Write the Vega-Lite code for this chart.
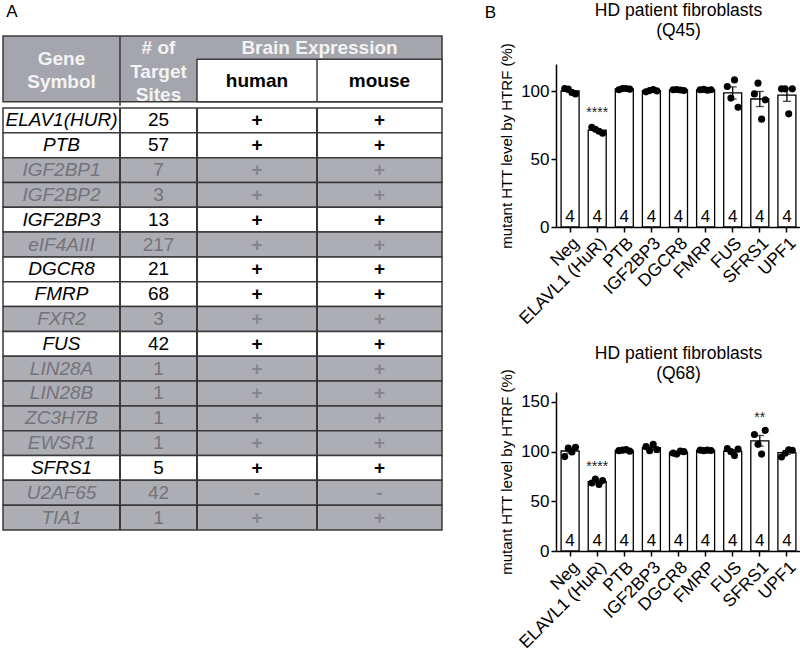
{
  "$schema": "https://vega.github.io/schema/vega-lite/v6.json",
  "padding": {"left": 2, "top": 2, "right": 0, "bottom": 0},
  "spacing": 41,
  "config": {
    "font": "Liberation Sans",
    "view": {"stroke": null},
    "title": {"font": "Liberation Sans", "fontWeight": "normal", "color": "black"},
    "axis": {"labelFont": "Liberation Sans", "titleFont": "Liberation Sans", "domainColor": "black", "tickColor": "black", "labelColor": "black", "titleColor": "black", "grid": false, "domainWidth": 1.5, "tickWidth": 1.5}
  },
  "datasets": {
    "table": [
      {"gene": "ELAV1(HUR)", "sites": 25, "human": "+", "mouse": "+", "tested": "yes"},
      {"gene": "PTB", "sites": 57, "human": "+", "mouse": "+", "tested": "yes"},
      {"gene": "IGF2BP1", "sites": 7, "human": "+", "mouse": "+", "tested": "no"},
      {"gene": "IGF2BP2", "sites": 3, "human": "+", "mouse": "+", "tested": "no"},
      {"gene": "IGF2BP3", "sites": 13, "human": "+", "mouse": "+", "tested": "yes"},
      {"gene": "eIF4AIII", "sites": 217, "human": "+", "mouse": "+", "tested": "no"},
      {"gene": "DGCR8", "sites": 21, "human": "+", "mouse": "+", "tested": "yes"},
      {"gene": "FMRP", "sites": 68, "human": "+", "mouse": "+", "tested": "yes"},
      {"gene": "FXR2", "sites": 3, "human": "+", "mouse": "+", "tested": "no"},
      {"gene": "FUS", "sites": 42, "human": "+", "mouse": "+", "tested": "yes"},
      {"gene": "LIN28A", "sites": 1, "human": "+", "mouse": "+", "tested": "no"},
      {"gene": "LIN28B", "sites": 1, "human": "+", "mouse": "+", "tested": "no"},
      {"gene": "ZC3H7B", "sites": 1, "human": "+", "mouse": "+", "tested": "no"},
      {"gene": "EWSR1", "sites": 1, "human": "+", "mouse": "+", "tested": "no"},
      {"gene": "SFRS1", "sites": 5, "human": "+", "mouse": "+", "tested": "yes"},
      {"gene": "U2AF65", "sites": 42, "human": "-", "mouse": "-", "tested": "no"},
      {"gene": "TIA1", "sites": 1, "human": "+", "mouse": "+", "tested": "no"}
    ],
    "q45": [
      {"gene": "Neg", "rep": 1, "value": 102, "sig": ""},
      {"gene": "Neg", "rep": 2, "value": 101.5, "sig": ""},
      {"gene": "Neg", "rep": 3, "value": 99, "sig": ""},
      {"gene": "Neg", "rep": 4, "value": 98, "sig": ""},
      {"gene": "ELAVL1 (HuR)", "rep": 1, "value": 73.5, "sig": "****"},
      {"gene": "ELAVL1 (HuR)", "rep": 2, "value": 72, "sig": "****"},
      {"gene": "ELAVL1 (HuR)", "rep": 3, "value": 70.5, "sig": "****"},
      {"gene": "ELAVL1 (HuR)", "rep": 4, "value": 69, "sig": "****"},
      {"gene": "PTB", "rep": 1, "value": 101, "sig": ""},
      {"gene": "PTB", "rep": 2, "value": 102, "sig": ""},
      {"gene": "PTB", "rep": 3, "value": 102, "sig": ""},
      {"gene": "PTB", "rep": 4, "value": 101.5, "sig": ""},
      {"gene": "IGF2BP3", "rep": 1, "value": 99.5, "sig": ""},
      {"gene": "IGF2BP3", "rep": 2, "value": 100.5, "sig": ""},
      {"gene": "IGF2BP3", "rep": 3, "value": 101.2, "sig": ""},
      {"gene": "IGF2BP3", "rep": 4, "value": 100.2, "sig": ""},
      {"gene": "DGCR8", "rep": 1, "value": 101, "sig": ""},
      {"gene": "DGCR8", "rep": 2, "value": 101.2, "sig": ""},
      {"gene": "DGCR8", "rep": 3, "value": 100.8, "sig": ""},
      {"gene": "DGCR8", "rep": 4, "value": 100.5, "sig": ""},
      {"gene": "FMRP", "rep": 1, "value": 101, "sig": ""},
      {"gene": "FMRP", "rep": 2, "value": 101.3, "sig": ""},
      {"gene": "FMRP", "rep": 3, "value": 100.7, "sig": ""},
      {"gene": "FMRP", "rep": 4, "value": 101, "sig": ""},
      {"gene": "FUS", "rep": 1, "value": 103.4, "sig": ""},
      {"gene": "FUS", "rep": 2, "value": 94.9, "sig": ""},
      {"gene": "FUS", "rep": 3, "value": 108.3, "sig": ""},
      {"gene": "FUS", "rep": 4, "value": 88.2, "sig": ""},
      {"gene": "SFRS1", "rep": 1, "value": 98, "sig": ""},
      {"gene": "SFRS1", "rep": 2, "value": 105.9, "sig": ""},
      {"gene": "SFRS1", "rep": 3, "value": 79.4, "sig": ""},
      {"gene": "SFRS1", "rep": 4, "value": 93.6, "sig": ""},
      {"gene": "UPF1", "rep": 1, "value": 101.7, "sig": ""},
      {"gene": "UPF1", "rep": 2, "value": 101.7, "sig": ""},
      {"gene": "UPF1", "rep": 3, "value": 83.3, "sig": ""},
      {"gene": "UPF1", "rep": 4, "value": 101.7, "sig": ""}
    ],
    "q68": [
      {"gene": "Neg", "rep": 1, "value": 95, "sig": ""},
      {"gene": "Neg", "rep": 2, "value": 103.5, "sig": ""},
      {"gene": "Neg", "rep": 3, "value": 99.7, "sig": ""},
      {"gene": "Neg", "rep": 4, "value": 104.4, "sig": ""},
      {"gene": "ELAVL1 (HuR)", "rep": 1, "value": 68.5, "sig": "****"},
      {"gene": "ELAVL1 (HuR)", "rep": 2, "value": 72.5, "sig": "****"},
      {"gene": "ELAVL1 (HuR)", "rep": 3, "value": 67, "sig": "****"},
      {"gene": "ELAVL1 (HuR)", "rep": 4, "value": 71, "sig": "****"},
      {"gene": "PTB", "rep": 1, "value": 101, "sig": ""},
      {"gene": "PTB", "rep": 2, "value": 101.5, "sig": ""},
      {"gene": "PTB", "rep": 3, "value": 102, "sig": ""},
      {"gene": "PTB", "rep": 4, "value": 100.5, "sig": ""},
      {"gene": "IGF2BP3", "rep": 1, "value": 105, "sig": ""},
      {"gene": "IGF2BP3", "rep": 2, "value": 101, "sig": ""},
      {"gene": "IGF2BP3", "rep": 3, "value": 107.5, "sig": ""},
      {"gene": "IGF2BP3", "rep": 4, "value": 102, "sig": ""},
      {"gene": "DGCR8", "rep": 1, "value": 98.5, "sig": ""},
      {"gene": "DGCR8", "rep": 2, "value": 97.5, "sig": ""},
      {"gene": "DGCR8", "rep": 3, "value": 100.5, "sig": ""},
      {"gene": "DGCR8", "rep": 4, "value": 100, "sig": ""},
      {"gene": "FMRP", "rep": 1, "value": 101.5, "sig": ""},
      {"gene": "FMRP", "rep": 2, "value": 101, "sig": ""},
      {"gene": "FMRP", "rep": 3, "value": 101.5, "sig": ""},
      {"gene": "FMRP", "rep": 4, "value": 101.2, "sig": ""},
      {"gene": "FUS", "rep": 1, "value": 103, "sig": ""},
      {"gene": "FUS", "rep": 2, "value": 100, "sig": ""},
      {"gene": "FUS", "rep": 3, "value": 96, "sig": ""},
      {"gene": "FUS", "rep": 4, "value": 102.5, "sig": ""},
      {"gene": "SFRS1", "rep": 1, "value": 117.3, "sig": "**"},
      {"gene": "SFRS1", "rep": 2, "value": 107.3, "sig": "**"},
      {"gene": "SFRS1", "rep": 3, "value": 97.5, "sig": "**"},
      {"gene": "SFRS1", "rep": 4, "value": 121.4, "sig": "**"},
      {"gene": "UPF1", "rep": 1, "value": 94.6, "sig": ""},
      {"gene": "UPF1", "rep": 2, "value": 98.4, "sig": ""},
      {"gene": "UPF1", "rep": 3, "value": 101.9, "sig": ""},
      {"gene": "UPF1", "rep": 4, "value": 101.3, "sig": ""}
    ]
  },
  "hconcat": [
    {
      "title": {"text": "A", "anchor": "start", "fontSize": 17, "offset": 14, "dx": 4},
      "spacing": 0,
      "vconcat": [
        {
          "width": 439,
          "height": 70,
          "data": {"values": [{}]},
          "layer": [
            {
              "mark": {"type": "rect", "fill": "#a5a5ad", "stroke": "#3a3a3a", "strokeWidth": 1.5},
              "encoding": {
                "x": {"datum": 0, "type": "quantitative", "scale": {"domain": [0, 100]}, "axis": null},
                "x2": {"datum": 100},
                "y": {"datum": 0, "type": "quantitative", "scale": {"domain": [0, 2.82], "reverse": true}, "axis": null},
                "y2": {"datum": 2.82}
              }
            },
            {
              "mark": {"type": "rect", "fill": "white", "stroke": "#3a3a3a", "strokeWidth": 1.5},
              "encoding": {
                "x": {"datum": 44.19, "type": "quantitative"},
                "x2": {"datum": 100},
                "y": {"datum": 1.0, "type": "quantitative"},
                "y2": {"datum": 2.82}
              }
            },
            {
              "mark": {"type": "rule", "stroke": "#3a3a3a", "strokeWidth": 1.5},
              "encoding": {"x": {"datum": 26.65, "type": "quantitative"}}
            },
            {
              "mark": {"type": "rule", "stroke": "#3a3a3a", "strokeWidth": 1.5},
              "encoding": {"x": {"datum": 71.53, "type": "quantitative"}, "y": {"datum": 1.0, "type": "quantitative"}, "y2": {"datum": 2.82}}
            },
            {
              "mark": {"type": "text", "fontSize": 19, "fontWeight": "bold", "color": "#f3f3f3", "baseline": "middle", "lineHeight": 23},
              "encoding": {"x": {"datum": 13.33, "type": "quantitative"}, "y": {"datum": 1.0, "type": "quantitative"}, "text": {"value": ["Gene", "Symbol"]}}
            },
            {
              "mark": {"type": "text", "fontSize": 19, "fontWeight": "bold", "color": "#f3f3f3", "baseline": "middle", "lineHeight": 23.5},
              "encoding": {"x": {"datum": 35.42, "type": "quantitative"}, "y": {"datum": 0.52, "type": "quantitative"}, "text": {"value": ["# of", "Target", "Sites"]}}
            },
            {
              "mark": {"type": "text", "fontSize": 19, "fontWeight": "bold", "color": "#f3f3f3", "baseline": "middle"},
              "encoding": {"x": {"datum": 72.1, "type": "quantitative"}, "y": {"datum": 0.52, "type": "quantitative"}, "text": {"value": "Brain Expression"}}
            },
            {
              "mark": {"type": "text", "fontSize": 19, "fontWeight": "bold", "color": "black", "baseline": "middle"},
              "encoding": {"x": {"datum": 57.86, "type": "quantitative"}, "y": {"datum": 1.93, "type": "quantitative"}, "text": {"value": "human"}}
            },
            {
              "mark": {"type": "text", "fontSize": 19, "fontWeight": "bold", "color": "black", "baseline": "middle"},
              "encoding": {"x": {"datum": 85.76, "type": "quantitative"}, "y": {"datum": 1.93, "type": "quantitative"}, "text": {"value": "mouse"}}
            }
          ]
        },
        {
          "width": 439,
          "height": 422,
          "data": {"name": "table"},
          "encoding": {
            "y": {"field": "gene", "type": "nominal", "sort": null, "scale": {"paddingInner": 0, "paddingOuter": 0}, "axis": null}
          },
          "layer": [
            {
              "mark": {"type": "rect", "stroke": "#3a3a3a", "strokeWidth": 1.5},
              "encoding": {
                "x": {"datum": 0, "type": "quantitative", "scale": {"domain": [0, 100]}, "axis": null},
                "x2": {"datum": 100},
                "fill": {"condition": {"test": "datum.tested === 'yes'", "value": "white"}, "value": "#adadb4"}
              }
            },
            {"mark": {"type": "rule", "stroke": "#3a3a3a", "strokeWidth": 1.5}, "encoding": {"x": {"datum": 26.65, "type": "quantitative"}, "y": null}},
            {"mark": {"type": "rule", "stroke": "#3a3a3a", "strokeWidth": 1.5}, "encoding": {"x": {"datum": 44.19, "type": "quantitative"}, "y": null}},
            {"mark": {"type": "rule", "stroke": "#3a3a3a", "strokeWidth": 1.5}, "encoding": {"x": {"datum": 71.53, "type": "quantitative"}, "y": null}},
            {
              "mark": {"type": "text", "fontSize": 19, "fontStyle": "italic", "baseline": "middle"},
              "encoding": {
                "x": {"datum": 13.33, "type": "quantitative"},
                "text": {"field": "gene"},
                "color": {"condition": {"test": "datum.tested === 'yes'", "value": "black"}, "value": "#74747b"}
              }
            },
            {
              "mark": {"type": "text", "fontSize": 19, "baseline": "middle"},
              "encoding": {
                "x": {"datum": 35.42, "type": "quantitative"},
                "text": {"field": "sites"},
                "color": {"condition": {"test": "datum.tested === 'yes'", "value": "black"}, "value": "#74747b"}
              }
            },
            {
              "mark": {"type": "text", "fontSize": 19, "fontWeight": "bold", "baseline": "middle"},
              "encoding": {
                "x": {"datum": 57.86, "type": "quantitative"},
                "text": {"field": "human"},
                "color": {"condition": {"test": "datum.tested === 'yes'", "value": "black"}, "value": "#85858c"}
              }
            },
            {
              "mark": {"type": "text", "fontSize": 19, "fontWeight": "bold", "baseline": "middle"},
              "encoding": {
                "x": {"datum": 85.76, "type": "quantitative"},
                "text": {"field": "mouse"},
                "color": {"condition": {"test": "datum.tested === 'yes'", "value": "black"}, "value": "#85858c"}
              }
            }
          ]
        }
      ]
    },
    {
      "title": {"text": "B", "anchor": "start", "fontSize": 17, "offset": -20, "dx": -15},
      "spacing": 17,
      "vconcat": [
        {
          "spacing": 0,
          "vconcat": [
            {
              "width": 245,
              "height": 1,
              "title": {"text": ["HD patient fibroblasts", "(Q45)"], "fontSize": 17.5, "lineHeight": 20, "offset": -9},
              "data": {"values": [{}]},
              "mark": {"type": "text"},
              "encoding": {}
            },
            {
              "width": 245,
              "height": 163,
              "data": {"name": "q45"},
              "encoding": {
                "x": {"field": "gene", "type": "nominal", "sort": null, "scale": {"paddingInner": 0.336, "paddingOuter": 0.188}, "axis": {"title": null, "labelAngle": -45, "labelFontSize": 17.5, "tickSize": 5, "labelPadding": 2}}
              },
              "layer": [
                {
                  "mark": {"type": "bar", "fill": "white", "stroke": "black", "strokeWidth": 1.3},
                  "encoding": {"y": {"aggregate": "mean", "field": "value", "type": "quantitative", "title": "mutant HTT level by HTRF (%)", "scale": {"domain": [0, 120]}, "axis": {"values": [0, 50, 100], "labelFontSize": 17, "titleFontSize": 15, "titleFontWeight": "normal", "tickSize": 5, "labelPadding": 2, "titlePadding": 6}}}
                },
                {
                  "mark": {"type": "errorbar", "extent": "stderr", "color": "black", "thickness": 1.3, "ticks": {"size": 8}},
                  "encoding": {"y": {"field": "value", "type": "quantitative", "title": "mutant HTT level by HTRF (%)"}}
                },
                {
                  "mark": {"type": "point", "filled": true, "color": "black", "size": 50, "opacity": 1},
                  "encoding": {
                    "y": {"field": "value", "type": "quantitative", "title": "mutant HTT level by HTRF (%)"},
                    "xOffset": {"field": "rep", "type": "nominal", "scale": {"type": "point", "padding": 1}}
                  }
                },
                {
                  "mark": {"type": "text", "fontSize": 17, "baseline": "alphabetic", "dy": -5, "color": "black"},
                  "encoding": {"y": {"datum": 0, "type": "quantitative"}, "text": {"aggregate": "count", "type": "quantitative"}}
                },
                {
                  "transform": [{"filter": "datum.sig !== ''"}],
                  "mark": {"type": "text", "fontSize": 14, "baseline": "middle", "dy": -14, "color": "#222"},
                  "encoding": {"y": {"aggregate": "max", "field": "value", "type": "quantitative"}, "text": {"field": "sig"}}
                }
              ]
            }
          ]
        },
        {
          "width": 245,
          "height": 159,
          "title": {"text": ["HD patient fibroblasts", "(Q68)"], "fontSize": 17.5, "lineHeight": 20, "offset": -14},
          "data": {"name": "q68"},
          "encoding": {
            "x": {"field": "gene", "type": "nominal", "sort": null, "scale": {"paddingInner": 0.336, "paddingOuter": 0.188}, "axis": {"title": null, "labelAngle": -45, "labelFontSize": 17.5, "tickSize": 5, "labelPadding": 2}}
          },
          "layer": [
            {
              "mark": {"type": "bar", "fill": "white", "stroke": "black", "strokeWidth": 1.3},
              "encoding": {"y": {"aggregate": "mean", "field": "value", "type": "quantitative", "title": "mutant HTT level by HTRF (%)", "scale": {"domain": [0, 150]}, "axis": {"values": [0, 50, 100, 150], "labelFontSize": 17, "titleFontSize": 15, "titleFontWeight": "normal", "tickSize": 5, "labelPadding": 2, "titlePadding": 6}}}
            },
            {
              "mark": {"type": "errorbar", "extent": "stderr", "color": "black", "thickness": 1.3, "ticks": {"size": 8}},
              "encoding": {"y": {"field": "value", "type": "quantitative", "title": "mutant HTT level by HTRF (%)"}}
            },
            {
              "mark": {"type": "point", "filled": true, "color": "black", "size": 50, "opacity": 1},
              "encoding": {
                "y": {"field": "value", "type": "quantitative", "title": "mutant HTT level by HTRF (%)"},
                "xOffset": {"field": "rep", "type": "nominal", "scale": {"type": "point", "padding": 1}}
              }
            },
            {
              "mark": {"type": "text", "fontSize": 17, "baseline": "alphabetic", "dy": -5, "color": "black"},
              "encoding": {"y": {"datum": 0, "type": "quantitative"}, "text": {"aggregate": "count", "type": "quantitative"}}
            },
            {
              "transform": [{"filter": "datum.sig !== ''"}],
              "mark": {"type": "text", "fontSize": 14, "baseline": "middle", "dy": -12, "color": "#222"},
              "encoding": {"y": {"aggregate": "max", "field": "value", "type": "quantitative"}, "text": {"field": "sig"}}
            }
          ]
        }
      ]
    }
  ]
}
